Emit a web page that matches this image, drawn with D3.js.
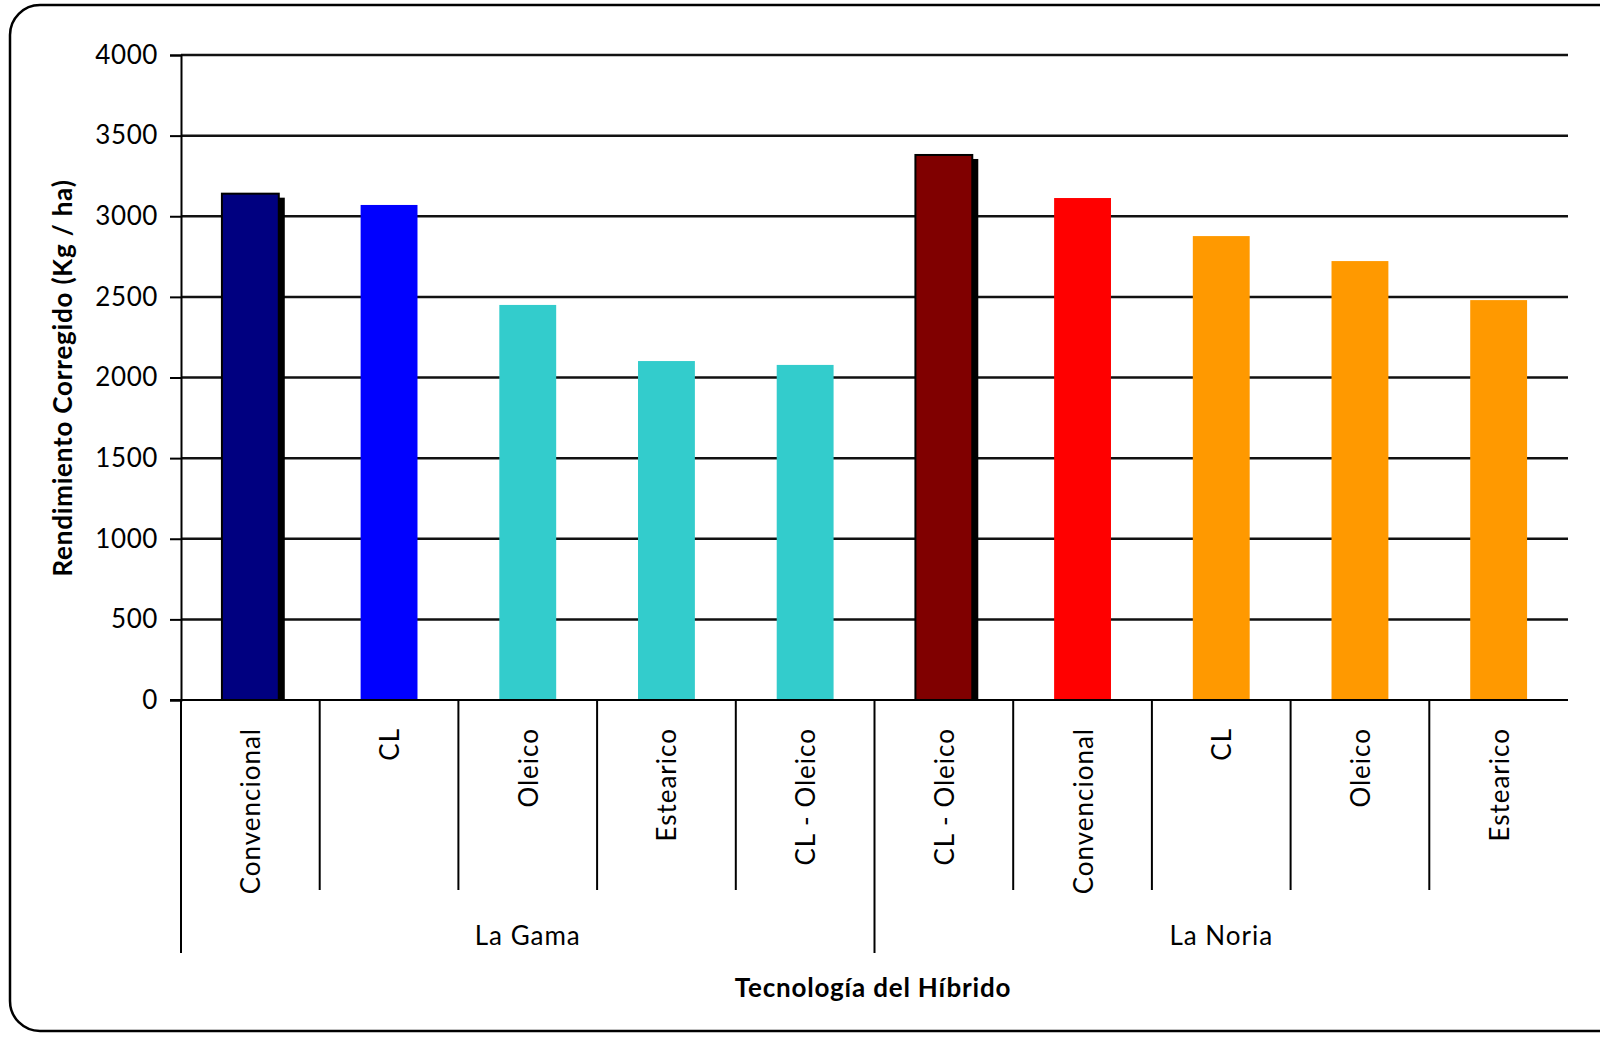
<!DOCTYPE html>
<html>
<head>
  <meta charset="utf-8">
  <title>Rendimiento Corregido</title>
  <script src="https://d3js.org/d3.v7.min.js"></script>
  <style>
    body { margin: 0; background: #fff; }
    text { font-family: Lato, "Open Sans", sans-serif; fill: #000; }
    .tick-label { font-size: 26px; letter-spacing: 0.6px; }
    .cat-label { font-size: 26px; letter-spacing: 1px; }
    .axis-title { font-size: 26px; font-weight: bold; letter-spacing: 0.8px; }
  </style>
</head>
<body>
  <script>
    // data
    var groups = ["La Gama", "La Noria"];
    var categories = ["Convencional", "CL", "Oleico", "Estearico", "CL - Oleico",
                      "CL - Oleico", "Convencional", "CL", "Oleico", "Estearico"];
    var groupOf = [0, 0, 0, 0, 0, 1, 1, 1, 1, 1];
    var values = [3140, 3070, 2450, 2102, 2078, 3380, 3113, 2877, 2722, 2480];
    var colors = ["#000080", "#0000FF", "#33CCCC", "#33CCCC", "#33CCCC",
                  "#800000", "#FF0000", "#FF9900", "#FF9900", "#FF9900"];
    var shadowed = [true, false, false, false, false, true, false, false, false, false];
    var yTicks = [0, 500, 1000, 1500, 2000, 2500, 3000, 3500, 4000];

    var W = 1600, H = 1056;
    var plotL = 181, plotR = 1568, plotT = 55, plotB = 700;

    var svg = d3.select("body").append("svg")
        .attr("width", W)
        .attr("height", H);

    // outer rounded frame (runs off the right edge like the original)
    svg.append("rect")
        .attr("x", 10).attr("y", 5)
        .attr("width", 1640).attr("height", 1026)
        .attr("rx", 30).attr("ry", 30)
        .attr("fill", "none")
        .attr("stroke", "#000")
        .attr("stroke-width", 2.5);

    var x = d3.scaleBand()
        .domain(d3.range(categories.length))
        .range([plotL, plotR])
        .paddingInner(0.59)
        .paddingOuter(0.295);

    var y = d3.scaleLinear().domain([0, 4000]).range([plotB, plotT]);

    // gridlines
    svg.append("g").selectAll("line")
        .data(yTicks.filter(d => d > 0))
        .join("line")
        .attr("x1", plotL).attr("x2", plotR)
        .attr("y1", d => y(d)).attr("y2", d => y(d))
        .attr("stroke", "#111")
        .attr("stroke-width", 2.5);

    // y axis
    var yAxis = d3.axisLeft(y).tickValues(yTicks).tickFormat(d3.format("d"))
        .tickSize(11).tickPadding(12);
    var gy = svg.append("g")
        .attr("transform", "translate(" + plotL + ",0)")
        .call(yAxis);
    gy.attr("font-size", null).attr("font-family", null);
    gy.select(".domain").attr("stroke", "#000").attr("stroke-width", 2);
    gy.selectAll(".tick line").attr("stroke", "#000").attr("stroke-width", 2);
    gy.selectAll(".tick text").attr("class", "tick-label");

    // bar shadows
    var step = x.step();
    svg.append("g").selectAll("rect")
        .data(d3.range(values.length).filter(i => shadowed[i]))
        .join("rect")
        .attr("x", i => x(i) + 6)
        .attr("y", i => y(values[i]) + 4)
        .attr("width", x.bandwidth())
        .attr("height", i => plotB - y(values[i]) - 4)
        .attr("fill", "#000");

    // bars
    svg.append("g").selectAll("rect")
        .data(values)
        .join("rect")
        .attr("x", (d, i) => x(i))
        .attr("y", d => y(d))
        .attr("width", x.bandwidth())
        .attr("height", d => plotB - y(d))
        .attr("fill", (d, i) => colors[i])
        .attr("stroke", (d, i) => shadowed[i] ? "#000" : "none")
        .attr("stroke-width", 2);

    // x axis baseline
    svg.append("line")
        .attr("x1", plotL - 11).attr("x2", plotR)
        .attr("y1", plotB).attr("y2", plotB)
        .attr("stroke", "#000").attr("stroke-width", 2);

    // category dividers
    var dividers = d3.range(categories.length);
    svg.append("g").selectAll("line")
        .data(dividers)
        .join("line")
        .attr("x1", i => plotL + i * step).attr("x2", i => plotL + i * step)
        .attr("y1", plotB)
        .attr("y2", i => (i % 5 === 0) ? 953 : 890)
        .attr("stroke", "#000")
        .attr("stroke-width", 2);

    // category labels
    svg.append("g").selectAll("text")
        .data(categories)
        .join("text")
        .attr("class", "cat-label")
        .attr("text-anchor", "end")
        .attr("dominant-baseline", "central")
        .attr("transform", (d, i) => "translate(" + (plotL + (i + 0.5) * step) + ",728) rotate(-90)")
        .text(d => d);

    // group labels
    svg.append("g").selectAll("text")
        .data(groups)
        .join("text")
        .attr("class", "cat-label")
        .attr("text-anchor", "middle")
        .attr("x", (d, g) => {
          var idx = d3.range(categories.length).filter(i => groupOf[i] === g);
          return plotL + (d3.min(idx) + d3.max(idx) + 1) / 2 * step;
        })
        .attr("y", 945)
        .text(d => d);

    // axis titles
    svg.append("text")
        .attr("class", "axis-title")
        .attr("text-anchor", "middle")
        .attr("x", 873).attr("y", 997)
        .text("Tecnología del Híbrido");

    svg.append("text")
        .attr("class", "axis-title")
        .attr("text-anchor", "middle")
        .attr("transform", "translate(72,378) rotate(-90)")
        .text("Rendimiento Corregido (Kg / ha)");
  </script>
</body>
</html>
